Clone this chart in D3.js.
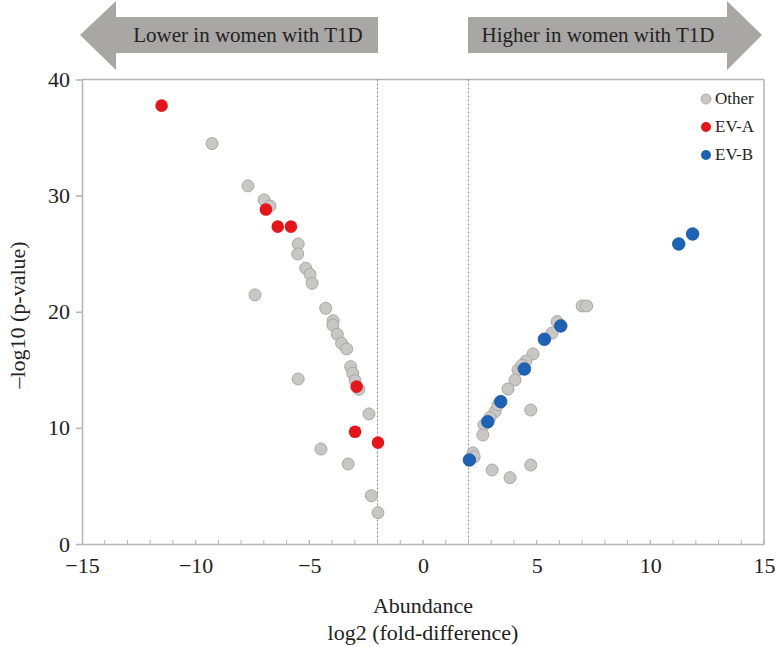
<!DOCTYPE html>
<html>
<head>
<meta charset="utf-8">
<script src="https://cdn.jsdelivr.net/npm/d3@7"></script>
<style>
  body { margin: 0; background: #fff; }
  svg { display: block; }
  text { font-family: "Liberation Serif", "DejaVu Serif", serif; fill: #222; }
</style>
</head>
<body>
<svg id="chart" width="776" height="647"></svg>
<script>
// ---- Data (log2 fold-difference, -log10 p-value) ----
const otherX = [-9.28, -7.70, -6.99, -6.73, -5.49, -5.51, -5.16, -4.97, -4.88, -7.39, -4.28,
  -3.95, -3.97, -3.77, -3.58, -3.36, -3.18, -3.09, -2.99, -2.82, -5.49, -2.38, -4.49, -3.29, -2.27, -1.98,
  7.0, 7.2, 5.90, 5.68, 4.84, 4.53, 4.18, 4.05, 3.74, 3.17, 2.68, 2.63, 2.20, 4.74, 3.04, 3.83, 4.74,
  2.95, 4.35, 3.30, 2.25];
const otherY = [34.48, 30.84, 29.63, 29.10, 25.84, 24.98, 23.75, 23.23, 22.45, 21.45, 20.30,
  19.23, 18.86, 18.06, 17.29, 16.80, 15.27, 14.70, 14.07, 13.32, 14.21, 11.20, 8.18, 6.89, 4.16, 2.70,
  20.5, 20.5, 19.15, 18.17, 16.37, 15.76, 14.99, 14.13, 13.35, 11.40, 10.25, 9.39, 7.84, 11.54, 6.37, 5.71, 6.80,
  10.9, 15.4, 12.0, 7.5];
const evaX = [-11.50, -6.91, -6.39, -5.81, -2.92, -2.99, -1.98];
const evaY = [37.75, 28.80, 27.33, 27.33, 13.55, 9.67, 8.73];
const evbX = [11.25, 11.86, 6.06, 5.34, 4.46, 3.42, 2.85, 2.04];
const evbY = [25.84, 26.70, 18.78, 17.63, 15.07, 12.26, 10.53, 7.24];
const xTicks = [-15, -10, -5, 0, 5, 10, 15];
const yTicks = [0, 10, 20, 30, 40];
const thresholds = [-2, 2];
const legendLabels = ["Other", "EV-A", "EV-B"];
const arrowLabels = ["Lower in women with T1D", "Higher in women with T1D"];

const colors = { other: "#c9c7c5", eva: "#e3161c", evb: "#1e63b3" };
const axisColor = "#b3b3b3";

const svg = d3.select("#chart");
const x = d3.scaleLinear().domain([-15, 15]).range([82, 764]);
const y = d3.scaleLinear().domain([0, 40]).range([544, 79.5]);

// ---- Arrows ----
const arrowFill = "#a9a7a5";
function arrowPath(dir) {
  if (dir < 0) {
    return `M80,35 L116,1 L116,17 L378,17 L378,53 L116,53 L116,70 Z`;
  }
  return `M762,35 L727,1 L727,17 L468,17 L468,53 L727,53 L727,70 Z`;
}
svg.append("path").attr("d", arrowPath(-1)).attr("fill", arrowFill);
svg.append("path").attr("d", arrowPath(1)).attr("fill", arrowFill);
svg.append("text").attr("x", 248).attr("y", 42).attr("text-anchor", "middle")
  .style("font-size", "21px").text(arrowLabels[0]);
svg.append("text").attr("x", 598).attr("y", 42).attr("text-anchor", "middle")
  .style("font-size", "21px").text(arrowLabels[1]);

// ---- Frame ----
svg.append("line").attr("x1", x(-15)).attr("x2", x(15)).attr("y1", y(40)).attr("y2", y(40))
  .attr("stroke", axisColor).attr("stroke-width", 1.5);
svg.append("line").attr("x1", x(15)).attr("x2", x(15)).attr("y1", y(40)).attr("y2", y(0))
  .attr("stroke", axisColor).attr("stroke-width", 1.5);

// ---- Threshold lines ----
svg.selectAll(".thr").data(thresholds).enter().append("line")
  .attr("x1", d => x(d)).attr("x2", d => x(d))
  .attr("y1", y(40)).attr("y2", y(0))
  .attr("stroke", "#8a8a8a").attr("stroke-width", 1).attr("stroke-dasharray", "2,2");

// ---- X axis ----
const xAxisG = svg.append("g").attr("transform", `translate(0,${y(0)})`);
xAxisG.selectAll(".minor").data(d3.range(-14, 15)).enter().append("line")
  .attr("x1", d => x(d)).attr("x2", d => x(d)).attr("y1", 0).attr("y2", -4)
  .attr("stroke", axisColor).attr("stroke-width", 1);
xAxisG.call(d3.axisBottom(x).tickValues(xTicks).tickSize(0).tickPadding(13))
  .call(g => g.select(".domain").attr("stroke", axisColor).attr("stroke-width", 1.5))
  .call(g => g.selectAll("text").style("font-size", "22px").style("font-family", "Liberation Serif").attr("fill", "#222"));
xAxisG.selectAll(".major").data(xTicks.slice(1)).enter().append("line")
  .attr("x1", d => x(d)).attr("x2", d => x(d)).attr("y1", -4).attr("y2", 0)
  .attr("stroke", axisColor).attr("stroke-width", 1);

// ---- Y axis ----
const yAxisG = svg.append("g").attr("transform", `translate(${x(-15)},0)`);
yAxisG.call(d3.axisLeft(y).tickValues(yTicks).tickSize(6).tickPadding(6).tickSizeOuter(0))
  .call(g => g.select(".domain").attr("stroke", axisColor).attr("stroke-width", 1.5))
  .call(g => g.selectAll(".tick line").attr("stroke", axisColor).attr("stroke-width", 1.5))
  .call(g => g.selectAll("text").style("font-size", "22px").style("font-family", "Liberation Serif").attr("fill", "#222"));

// ---- Axis titles ----
svg.append("text").attr("x", 423).attr("y", 613).attr("text-anchor", "middle")
  .style("font-size", "22px").text("Abundance");
svg.append("text").attr("x", 423).attr("y", 640).attr("text-anchor", "middle")
  .style("font-size", "22px").text("log2 (fold-difference)");
svg.append("text").attr("transform", `translate(25,315) rotate(-90)`).attr("text-anchor", "middle")
  .style("font-size", "22px").text("–log10 (p-value)");

// ---- Points ----
const toPts = (xs, ys) => xs.map((v, i) => ({ x: v, y: ys[i] }));
svg.append("g").selectAll("circle").data(toPts(otherX, otherY)).enter().append("circle")
  .attr("cx", d => x(d.x)).attr("cy", d => y(d.y)).attr("r", 6)
  .attr("fill", colors.other).attr("stroke", "#a9a7a5").attr("stroke-width", 1);
svg.append("g").selectAll("circle").data(toPts(evaX, evaY)).enter().append("circle")
  .attr("cx", d => x(d.x)).attr("cy", d => y(d.y)).attr("r", 6.3)
  .attr("fill", colors.eva);
svg.append("g").selectAll("circle").data(toPts(evbX, evbY)).enter().append("circle")
  .attr("cx", d => x(d.x)).attr("cy", d => y(d.y)).attr("r", 6.3)
  .attr("fill", colors.evb).attr("stroke", "#1a55a0").attr("stroke-width", 0.8);

// ---- Legend ----
const legendColors = [colors.other, colors.eva, colors.evb];
const lg = svg.append("g");
legendLabels.forEach((lab, i) => {
  const cy = 99 + i * 28;
  lg.append("circle").attr("cx", 706).attr("cy", cy).attr("r", 5)
    .attr("fill", legendColors[i]).attr("stroke", i === 0 ? "#b0aeac" : "none");
  lg.append("text").attr("x", 715).attr("y", cy + 5).style("font-size", "17px").text(lab);
});
</script>
</body>
</html>
